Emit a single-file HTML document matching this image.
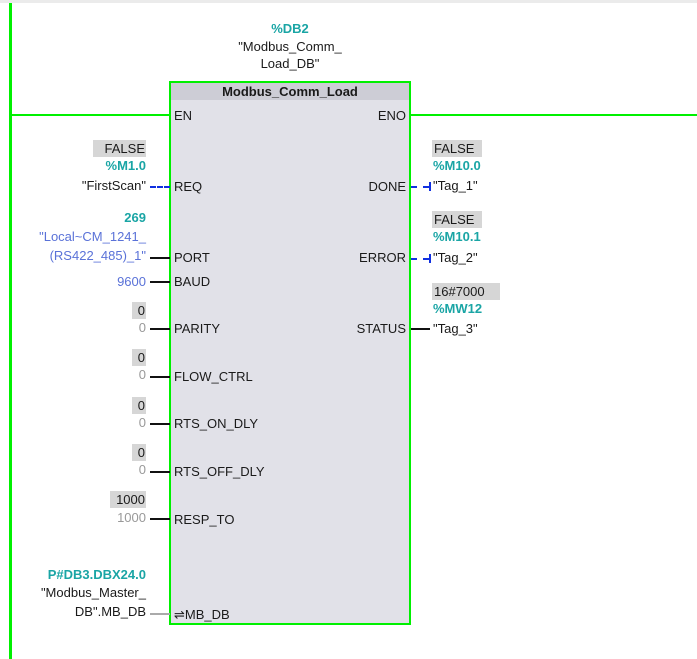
<!DOCTYPE html>
<html><head><meta charset="utf-8"><style>
body{margin:0;width:697px;height:659px;background:#fff;position:relative;overflow:hidden;font-family:"Liberation Sans","DejaVu Sans",sans-serif;font-size:13px;color:#1a1a1a}
div{position:absolute;white-space:nowrap;line-height:16px}
.g{background:#00f000}
.L{right:551px;text-align:right}
.R{left:433px}
.t{color:#1aa5a5;font-weight:bold}
.b{color:#5a72d8}
.gy{color:#999}
.box{background:#d6d6d6;padding:0 1px 0 6px;line-height:17px}
.rb{padding:0 8px 0 2px}
.pin{left:174px}
.pr{right:291px;text-align:right}
.ln{height:2px;background:#111}
.dash{height:0;border-top:2px dashed #1030e0}
</style></head><body>
<div style="left:0;top:0;width:697px;height:3px;background:#ebebeb"></div>
<div class="g" style="left:9px;top:3px;width:3px;height:656px"></div>
<div class="g" style="left:9px;top:114px;width:162px;height:2px"></div>
<div class="g" style="left:410px;top:114px;width:287px;height:2px"></div>
<div style="left:169px;top:81px;width:238px;height:540px;border:2px solid #00f000;background:#e1e1e8"></div>
<div style="left:171px;top:83px;width:238px;height:17px;background:#cdcdd6;text-align:center;font-weight:bold;line-height:18px">Modbus_Comm_Load</div>
<div class="t" style="left:190px;width:200px;text-align:center;top:21px">%DB2</div>
<div style="left:190px;width:200px;text-align:center;top:39px">"Modbus_Comm_</div>
<div style="left:190px;width:200px;text-align:center;top:56px">Load_DB"</div>

<div class="pin" style="top:108px">EN</div>
<div class="pr" style="top:108px">ENO</div>
<div class="pin" style="top:179px">REQ</div>
<div class="pr" style="top:179px">DONE</div>
<div class="pin" style="top:250px">PORT</div>
<div class="pr" style="top:250px">ERROR</div>
<div class="pin" style="top:274px">BAUD</div>
<div class="pin" style="top:321px">PARITY</div>
<div class="pr" style="top:321px">STATUS</div>
<div class="pin" style="top:369px">FLOW_CTRL</div>
<div class="pin" style="top:416px">RTS_ON_DLY</div>
<div class="pin" style="top:464px">RTS_OFF_DLY</div>
<div class="pin" style="top:512px">RESP_TO</div>
<div class="pin" style="top:607px">⇌MB_DB</div>

<div class="L box" style="top:140px;padding-left:12px">FALSE</div>
<div class="L t" style="top:158px">%M1.0</div>
<div class="L" style="top:178px">"FirstScan"</div>
<div class="dash" style="left:150px;top:186px;width:20px"></div>

<div class="L t" style="top:210px">269</div>
<div class="L b" style="top:229px">"Local~CM_1241_</div>
<div class="L b" style="top:248px">(RS422_485)_1"</div>
<div class="ln" style="left:150px;top:257px;width:20px"></div>
<div class="L b" style="top:274px">9600</div>
<div class="ln" style="left:150px;top:281px;width:20px"></div>

<div class="L box" style="top:302px">0</div><div class="L gy" style="top:320px">0</div>
<div class="ln" style="left:150px;top:328px;width:20px"></div>
<div class="L box" style="top:349px">0</div><div class="L gy" style="top:367px">0</div>
<div class="ln" style="left:150px;top:376px;width:20px"></div>
<div class="L box" style="top:397px">0</div><div class="L gy" style="top:415px">0</div>
<div class="ln" style="left:150px;top:423px;width:20px"></div>
<div class="L box" style="top:444px">0</div><div class="L gy" style="top:462px">0</div>
<div class="ln" style="left:150px;top:471px;width:20px"></div>
<div class="L box" style="top:491px">1000</div><div class="L gy" style="top:510px">1000</div>
<div class="ln" style="left:150px;top:518px;width:20px"></div>

<div class="L t" style="top:567px">P#DB3.DBX24.0</div>
<div class="L" style="top:585px">"Modbus_Master_</div>
<div class="L" style="top:604px">DB".MB_DB</div>
<div style="left:150px;top:613px;width:20px;height:2px;background:#aaa"></div>

<div class="R box rb" style="top:140px;left:432px">FALSE</div>
<div class="R t" style="top:158px">%M10.0</div>
<div class="R" style="top:178px">"Tag_1"</div>
<div class="dash" style="left:411px;top:186px;width:18px"></div>
<div style="left:429px;top:182px;width:2px;height:9px;background:#1030e0"></div>
<div class="R box rb" style="top:211px;left:432px">FALSE</div>
<div class="R t" style="top:229px">%M10.1</div>
<div class="R" style="top:250px">"Tag_2"</div>
<div class="dash" style="left:411px;top:258px;width:18px"></div>
<div style="left:429px;top:254px;width:2px;height:9px;background:#1030e0"></div>
<div class="R box" style="top:283px;left:432px;width:64px;padding:0 2px">16#7000</div>
<div class="R t" style="top:301px">%MW12</div>
<div class="R" style="top:321px">"Tag_3"</div>
<div class="ln" style="left:411px;top:328px;width:19px"></div>
</body></html>
